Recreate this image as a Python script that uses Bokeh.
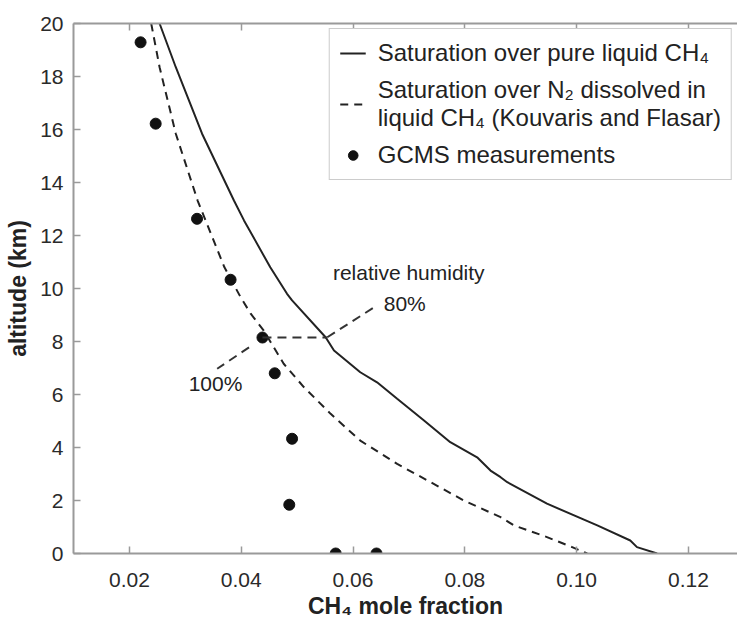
from bokeh.plotting import figure
from bokeh.models import Range1d, LinearAxis, FixedTicker, Legend, LegendItem
from bokeh.core.properties import value
from bokeh.embed import file_html
from bokeh.resources import INLINE

# Saturation over pure liquid CH4 (solid)
pure_alt = [20.0, 18.35, 15.84, 13.32, 12.57, 10.80, 9.80, 9.55, 8.16, 7.66, 6.84, 6.46,
            5.84, 5.02, 4.20, 3.63, 3.13, 2.88, 2.69, 1.88, 1.06, 0.49, 0.24, 0.0]
pure_x = [0.0254, 0.0283, 0.0330, 0.0387, 0.0405, 0.0452, 0.0482, 0.0491, 0.0551, 0.0566, 0.0613, 0.0643,
          0.0679, 0.0727, 0.0774, 0.0822, 0.0846, 0.0864, 0.0876, 0.0947, 0.1037, 0.1096, 0.1108, 0.1144]

# Saturation over N2 dissolved in liquid CH4 (dashed)
n2_alt = [20.0, 18.35, 15.84, 13.32, 10.80, 9.67, 9.05, 8.42, 7.16, 6.28, 5.27, 4.26,
          3.38, 2.69, 2.00, 1.37, 1.06, 0.62, 0.24, 0.0]
n2_x = [0.0239, 0.0254, 0.0283, 0.0322, 0.0370, 0.0399, 0.0417, 0.0440, 0.0476, 0.0512, 0.0560, 0.0613,
        0.0679, 0.0739, 0.0798, 0.0864, 0.0888, 0.0947, 0.0992, 0.1019]

# GCMS measurements
gcms_x = [0.0220, 0.0247, 0.0321, 0.0381, 0.0438, 0.0460, 0.0491, 0.0486, 0.0569, 0.0642]
gcms_alt = [19.29, 16.22, 12.63, 10.33, 8.15, 6.80, 4.33, 1.84, 0.0, 0.0]

x_ticks = [0.02, 0.04, 0.06, 0.08, 0.10, 0.12]
x_tick_labels = ["0.02", "0.04", "0.06", "0.08", "0.10", "0.12"]
y_ticks = [0, 2, 4, 6, 8, 10, 12, 14, 16, 18, 20]

# relative humidity annotation
rh_x = [0.0438, 0.0554]
rh_y = [8.15, 8.15]
lead80_x = [0.0554, 0.0643]
lead80_y = [8.16, 9.36]
lead100_x = [0.0414, 0.0357]
lead100_y = [7.78, 6.97]
ann_text = ["relative humidity", "80%", "100%"]
ann_x = [0.0564, 0.0655, 0.0306]
ann_y = [10.6, 9.43, 6.4]

x_title = "CH₄ mole fraction"
y_title = "altitude (km)"

FONT = "Liberation Sans"
INK = "#222222"
AXC = "#9a9a9a"

p = figure(width=737, height=625,
           x_range=Range1d(0.01, 0.12878), y_range=Range1d(0, 20),
           output_backend="svg", toolbar_location=None,
           min_border_left=73, min_border_right=0, min_border_top=23, min_border_bottom=72)
p.outline_line_color = None
p.xgrid.visible = False
p.ygrid.visible = False
p.background_fill_color = "white"
p.border_fill_color = "white"

r_pure = p.line(pure_x, pure_alt, line_color=INK, line_width=2)
r_n2 = p.line(n2_x, n2_alt, line_color=INK, line_width=2, line_dash="8 6")
r_pts = p.scatter(gcms_x, gcms_alt, size=11, fill_color="#111111", line_color="#111111")

p.line(rh_x, rh_y, line_color="#333333", line_width=2, line_dash="9 6")
p.line(lead80_x, lead80_y, line_color="#333333", line_width=2, line_dash="9 6")
p.line(lead100_x, lead100_y, line_color="#333333", line_width=2, line_dash="9 6")
p.text(ann_x, ann_y, text=ann_text, text_font=value(FONT), text_font_size="21px",
       text_color=INK, text_baseline="middle", text_align="left")


def style_axis(ax):
    ax.axis_line_color = AXC
    ax.axis_line_width = 2
    ax.major_tick_line_color = AXC
    ax.major_tick_line_width = 1.5
    ax.major_tick_in = 7
    ax.major_tick_out = 0
    ax.minor_tick_line_color = None
    ax.major_label_text_font = FONT
    ax.major_label_text_font_size = "21px"
    ax.major_label_text_color = "#2a2a2a"
    ax.axis_label_text_font = FONT
    ax.axis_label_text_font_size = "23px"
    ax.axis_label_text_font_style = "bold"
    ax.axis_label_text_color = INK


xa = p.xaxis[0]
xa.ticker = FixedTicker(ticks=x_ticks)
xa.major_label_overrides = {t: l for t, l in zip(x_ticks, x_tick_labels)}
style_axis(xa)
xa.major_label_standoff = 19
xa.axis_label = x_title
xa.axis_label_standoff = 3

ya = p.yaxis[0]
ya.ticker = FixedTicker(ticks=y_ticks)
style_axis(ya)
ya.major_label_standoff = 10
ya.axis_label = y_title
ya.axis_label_standoff = 6

# top frame edge with inward ticks, no labels
top = LinearAxis(ticker=FixedTicker(ticks=x_ticks))
style_axis(top)
top.major_label_overrides = {t: "" for t in x_ticks}
top.major_label_standoff = 0
p.add_layout(top, "above")

legend = Legend(items=[
    LegendItem(label="Saturation over pure liquid CH₄", renderers=[r_pure]),
    LegendItem(label="Saturation over N₂ dissolved in\nliquid CH₄ (Kouvaris and Flasar)", renderers=[r_n2]),
    LegendItem(label="GCMS measurements", renderers=[r_pts]),
], location="top_right")
legend.border_line_color = AXC
legend.border_line_width = 1.5
legend.background_fill_color = "white"
legend.background_fill_alpha = 1
legend.label_text_font = FONT
legend.label_text_font_size = "24px"
legend.label_text_line_height = 1.19
legend.label_text_color = INK
legend.glyph_width = 26
legend.glyph_height = 24
legend.label_standoff = 12
legend.padding = 10
legend.spacing = 9
legend.margin = 5
p.add_layout(legend)

open("out.html", "w").write(file_html(p, INLINE))
